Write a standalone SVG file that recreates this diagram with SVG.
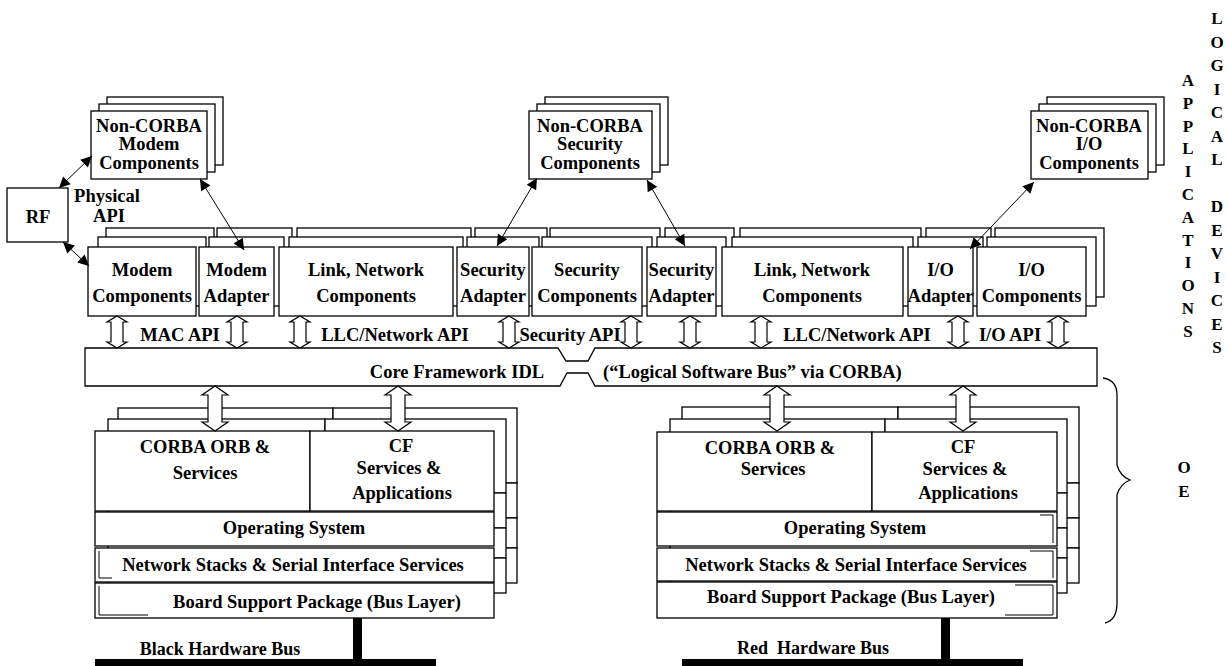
<svg xmlns="http://www.w3.org/2000/svg" width="1229" height="666" viewBox="0 0 1229 666">
<style>
.b{fill:#fff;stroke:#000;stroke-width:1.3}
.t{font-family:"Liberation Serif","Times New Roman",serif;font-weight:bold;font-size:18.5px;text-anchor:middle;fill:#000}
.v{font-family:"Liberation Serif","Times New Roman",serif;font-weight:bold;font-size:17px;text-anchor:middle;fill:#000}
.c{stroke:#000;stroke-width:1;fill:none}
.ha{fill:#fff;stroke:#000;stroke-width:1.2}
.bar{fill:#000}
</style>
<defs>
<marker id="ah" viewBox="0 0 10 10" refX="10" refY="5" markerWidth="13" markerHeight="11" markerUnits="userSpaceOnUse" orient="auto-start-reverse"><path d="M0,0 L10,5 L0,10 z" fill="#000"/></marker>
</defs>
<rect width="1229" height="666" fill="#fff"/>

<!-- Non-CORBA boxes -->
<g id="ncModem">
<rect class="b" x="107" y="97" width="116" height="68"/>
<rect class="b" x="99" y="104" width="116" height="68"/>
<rect class="b" x="91" y="111" width="116" height="68"/>
<text class="t" x="149" y="132">Non-CORBA</text>
<text class="t" x="149" y="150">Modem</text>
<text class="t" x="149" y="169">Components</text>
</g>
<g id="ncSecurity">
<rect class="b" x="545" y="97" width="123" height="68"/>
<rect class="b" x="537" y="104" width="123" height="68"/>
<rect class="b" x="529" y="111" width="123" height="68"/>
<text class="t" x="590" y="132">Non-CORBA</text>
<text class="t" x="590" y="150">Security</text>
<text class="t" x="590" y="169">Components</text>
</g>
<g id="ncIO">
<rect class="b" x="1047" y="97" width="117" height="68"/>
<rect class="b" x="1039" y="104" width="117" height="68"/>
<rect class="b" x="1031" y="111" width="117" height="68"/>
<text class="t" x="1089" y="132">Non-CORBA</text>
<text class="t" x="1089" y="150">I/O</text>
<text class="t" x="1089" y="169">Components</text>
</g>

<g id="rf">
<rect class="b" x="7" y="188" width="61" height="54"/>
<text class="t" x="38" y="223">RF</text>
</g>
<g id="physicalApi">
<text class="t" x="107" y="202">Physical</text>
<text class="t" x="109" y="222">API</text>
</g>

<!-- component back layers -->
<g id="backLayers">
<rect class="b" x="106" y="228" width="108" height="69"/>
<rect class="b" x="217" y="228" width="75" height="69"/>
<rect class="b" x="297" y="228" width="174" height="69"/>
<rect class="b" x="475" y="228" width="72" height="69"/>
<rect class="b" x="550" y="228" width="110" height="69"/>
<rect class="b" x="665" y="228" width="69" height="69"/>
<rect class="b" x="740" y="228" width="181" height="69"/>
<rect class="b" x="926" y="228" width="65" height="69"/>
<rect class="b" x="995" y="228" width="109" height="69"/>
</g>
<g id="midLayers">
<rect class="b" x="98" y="237" width="108" height="69"/>
<rect class="b" x="209" y="237" width="75" height="69"/>
<rect class="b" x="289" y="237" width="174" height="69"/>
<rect class="b" x="467" y="237" width="72" height="69"/>
<rect class="b" x="542" y="237" width="110" height="69"/>
<rect class="b" x="657" y="237" width="69" height="69"/>
<rect class="b" x="732" y="237" width="181" height="69"/>
<rect class="b" x="918" y="237" width="65" height="69"/>
<rect class="b" x="987" y="237" width="109" height="69"/>
</g>
<g id="modemComponents">
<rect class="b" x="88" y="247" width="108" height="69"/>
<text class="t" x="142" y="276">Modem</text>
<text class="t" x="142" y="302">Components</text>
</g>
<g id="modemAdapter">
<rect class="b" x="199" y="247" width="75" height="69"/>
<text class="t" x="236.5" y="276">Modem</text>
<text class="t" x="236.5" y="302">Adapter</text>
</g>
<g id="linkNetwork1">
<rect class="b" x="279" y="247" width="174" height="69"/>
<text class="t" x="366" y="276">Link, Network</text>
<text class="t" x="366" y="302">Components</text>
</g>
<g id="securityAdapter1">
<rect class="b" x="457" y="247" width="72" height="69"/>
<text class="t" x="493" y="276">Security</text>
<text class="t" x="493" y="302">Adapter</text>
</g>
<g id="securityComponents">
<rect class="b" x="532" y="247" width="110" height="69"/>
<text class="t" x="587" y="276">Security</text>
<text class="t" x="587" y="302">Components</text>
</g>
<g id="securityAdapter2">
<rect class="b" x="647" y="247" width="69" height="69"/>
<text class="t" x="681.5" y="276">Security</text>
<text class="t" x="681.5" y="302">Adapter</text>
</g>
<g id="linkNetwork2">
<rect class="b" x="722" y="247" width="181" height="69"/>
<text class="t" x="812" y="276">Link, Network</text>
<text class="t" x="812" y="302">Components</text>
</g>
<g id="ioAdapter">
<rect class="b" x="908" y="247" width="65" height="69"/>
<text class="t" x="940.5" y="276">I/O</text>
<text class="t" x="940.5" y="302">Adapter</text>
</g>
<g id="ioComponents">
<rect class="b" x="977" y="247" width="109" height="69"/>
<text class="t" x="1031.5" y="276">I/O</text>
<text class="t" x="1031.5" y="302">Components</text>
</g>

<!-- Core Framework bus -->
<g id="coreFramework">
<path class="b" d="M85,348 H558 L566,361 H588 L595,348 H1097 V386 H595 L588,373 H567 L560,386 H85 Z"/>
<text class="t" x="457" y="378">Core Framework IDL</text>
<text class="t" x="603" y="378" style="text-anchor:start">(“Logical Software Bus” via CORBA)</text>
</g>

<g id="apiLabels">
<text class="t" x="180" y="341">MAC API</text>
<text class="t" x="395" y="341">LLC/Network API</text>
<text class="t" x="570" y="341">Security API</text>
<text class="t" x="857" y="341">LLC/Network API</text>
<text class="t" x="1010" y="341">I/O API</text>
</g>

<!-- Left OE stack -->
<g id="blackStack">
<rect class="b" x="118" y="408" width="215" height="75"/>
<rect class="b" x="333" y="408" width="184" height="75"/>
<rect class="b" x="118" y="483" width="399" height="35"/>
<rect class="b" x="118" y="518" width="399" height="30"/>
<rect class="b" x="118" y="548" width="399" height="35"/>
<rect class="b" x="108" y="419" width="217" height="74"/>
<rect class="b" x="325" y="419" width="181" height="74"/>
<rect class="b" x="108" y="493" width="398" height="35"/>
<rect class="b" x="108" y="528" width="398" height="30"/>
<rect class="b" x="108" y="558" width="398" height="35"/>
<rect class="b" x="95" y="431" width="215" height="80"/>
<rect class="b" x="310" y="431" width="184" height="80"/>
<rect class="b" x="95" y="512" width="399" height="34"/>
<rect class="b" x="95" y="548" width="399" height="34"/>
<rect class="b" x="95" y="583" width="399" height="35"/>
<path class="c" d="M99,551 V578 H112 M99,586 V615 H148"/>
<text class="t" x="205" y="453">CORBA ORB &amp;</text>
<text class="t" x="205" y="479">Services</text>
<text class="t" x="401" y="452">CF</text>
<text class="t" x="399" y="474">Services &amp;</text>
<text class="t" x="402" y="499">Applications</text>
<text class="t" x="294" y="534">Operating System</text>
<text class="t" x="293" y="571">Network Stacks &amp; Serial Interface Services</text>
<text class="t" x="317" y="608">Board Support Package (Bus Layer)</text>
</g>
<g id="blackBus">
<rect class="bar" x="353" y="618" width="9" height="42"/>
<rect class="bar" x="95" y="659" width="341" height="7"/>
<text class="t" x="220" y="655" style="font-size:18px">Black Hardware Bus</text>
</g>

<!-- Right OE stack -->
<g id="redStack">
<rect class="b" x="682" y="407" width="216" height="76"/>
<rect class="b" x="898" y="407" width="181" height="76"/>
<rect class="b" x="682" y="483" width="397" height="35"/>
<rect class="b" x="682" y="518" width="397" height="30"/>
<rect class="b" x="682" y="548" width="397" height="35"/>
<rect class="b" x="670" y="419" width="215" height="74"/>
<rect class="b" x="885" y="419" width="182" height="74"/>
<rect class="b" x="670" y="493" width="397" height="35"/>
<rect class="b" x="670" y="528" width="397" height="30"/>
<rect class="b" x="670" y="558" width="397" height="35"/>
<rect class="b" x="657" y="432" width="215" height="79"/>
<rect class="b" x="872" y="432" width="185" height="79"/>
<rect class="b" x="657" y="512" width="400" height="34"/>
<rect class="b" x="657" y="548" width="400" height="33"/>
<rect class="b" x="657" y="582" width="400" height="36"/>
<path class="c" d="M1040,515 H1053 V543 M1030,551 H1053 V578 M1015,585 H1053 V615 H1005"/>
<text class="t" x="770" y="454">CORBA ORB &amp;</text>
<text class="t" x="773" y="475">Services</text>
<text class="t" x="963" y="453">CF</text>
<text class="t" x="965" y="475">Services &amp;</text>
<text class="t" x="968" y="499">Applications</text>
<text class="t" x="855" y="534">Operating System</text>
<text class="t" x="856" y="571">Network Stacks &amp; Serial Interface Services</text>
<text class="t" x="851" y="603">Board Support Package (Bus Layer)</text>
</g>
<g id="redBus">
<rect class="bar" x="941" y="618" width="9" height="42"/>
<rect class="bar" x="682" y="659" width="341" height="7"/>
<text class="t" x="813" y="654" style="font-size:18px;white-space:pre">Red  Hardware Bus</text>
</g>

<!-- connectors -->
<g id="connectors">
<line class="c" x1="59" y1="188" x2="92" y2="156" marker-start="url(#ah)" marker-end="url(#ah)"/>
<line class="c" x1="63" y1="242" x2="89" y2="266" marker-start="url(#ah)" marker-end="url(#ah)"/>
<line class="c" x1="200" y1="179" x2="244" y2="250" marker-start="url(#ah)" marker-end="url(#ah)"/>
<line class="c" x1="537" y1="178" x2="497" y2="246" marker-start="url(#ah)" marker-end="url(#ah)"/>
<line class="c" x1="647" y1="180" x2="685" y2="246" marker-start="url(#ah)" marker-end="url(#ah)"/>
<line class="c" x1="1034" y1="182" x2="970" y2="249" marker-start="url(#ah)" marker-end="url(#ah)"/>
<g id="apiArrows">
<polygon class="ha" points="117,316 127,322 123,322 123,342 127,342 117,348 107,342 111,342 111,322 107,322"/>
<polygon class="ha" points="237,316 247,322 243,322 243,342 247,342 237,348 227,342 231,342 231,322 227,322"/>
<polygon class="ha" points="300,316 310,322 306,322 306,342 310,342 300,348 290,342 294,342 294,322 290,322"/>
<polygon class="ha" points="509,316 519,322 515,322 515,342 519,342 509,348 499,342 503,342 503,322 499,322"/>
<polygon class="ha" points="631,316 641,322 637,322 637,342 641,342 631,348 621,342 625,342 625,322 621,322"/>
<polygon class="ha" points="690,316 700,322 696,322 696,342 700,342 690,348 680,342 684,342 684,322 680,322"/>
<polygon class="ha" points="761,316 771,322 767,322 767,342 771,342 761,348 751,342 755,342 755,322 751,322"/>
<polygon class="ha" points="958,316 968,322 964,322 964,342 968,342 958,348 948,342 952,342 952,322 948,322"/>
<polygon class="ha" points="1058,316 1068,322 1064,322 1064,342 1068,342 1058,348 1048,342 1052,342 1052,322 1048,322"/>
</g>
<g id="oeArrows">
<polygon class="ha" points="215,386 228,395 222,395 222,422 228,422 215,431 202,422 208,422 208,395 202,395"/>
<polygon class="ha" points="398,386 411,395 405,395 405,422 411,422 398,431 385,422 391,422 391,395 385,395"/>
<polygon class="ha" points="777,386 790,395 784,395 784,422 790,422 777,431 764,422 770,422 770,395 764,395"/>
<polygon class="ha" points="963,386 976,395 970,395 970,422 976,422 963,431 950,422 956,422 956,395 950,395"/>
</g>
<path class="c" d="M1103,378 Q1117,380 1117,395 V465 Q1120,476 1130,480 Q1120,484 1117,495 V603 Q1117,620 1105,623" style="stroke-width:1.3"/>
</g>

<g id="oeLabel">
<text class="t" x="1184" y="473" style="font-size:17px">O</text>
<text class="t" x="1184" y="497" style="font-size:17px">E</text>
</g>
<g id="applicationsLabel">
<text class="v" x="1188" y="86">A</text>
<text class="v" x="1188" y="109">P</text>
<text class="v" x="1188" y="132">P</text>
<text class="v" x="1188" y="154">L</text>
<text class="v" x="1188" y="177">I</text>
<text class="v" x="1188" y="200">C</text>
<text class="v" x="1188" y="223">A</text>
<text class="v" x="1188" y="246">T</text>
<text class="v" x="1188" y="268">I</text>
<text class="v" x="1188" y="291">O</text>
<text class="v" x="1188" y="314">N</text>
<text class="v" x="1188" y="337">S</text>
</g>
<g id="logicalDevicesLabel">
<text class="v" x="1217" y="24">L</text>
<text class="v" x="1217" y="48">O</text>
<text class="v" x="1217" y="71">G</text>
<text class="v" x="1217" y="95">I</text>
<text class="v" x="1217" y="118">C</text>
<text class="v" x="1217" y="142">A</text>
<text class="v" x="1217" y="165">L</text>
<text class="v" x="1217" y="212">D</text>
<text class="v" x="1217" y="236">E</text>
<text class="v" x="1217" y="259">V</text>
<text class="v" x="1217" y="283">I</text>
<text class="v" x="1217" y="306">C</text>
<text class="v" x="1217" y="330">E</text>
<text class="v" x="1217" y="353">S</text>
</g>
</svg>
